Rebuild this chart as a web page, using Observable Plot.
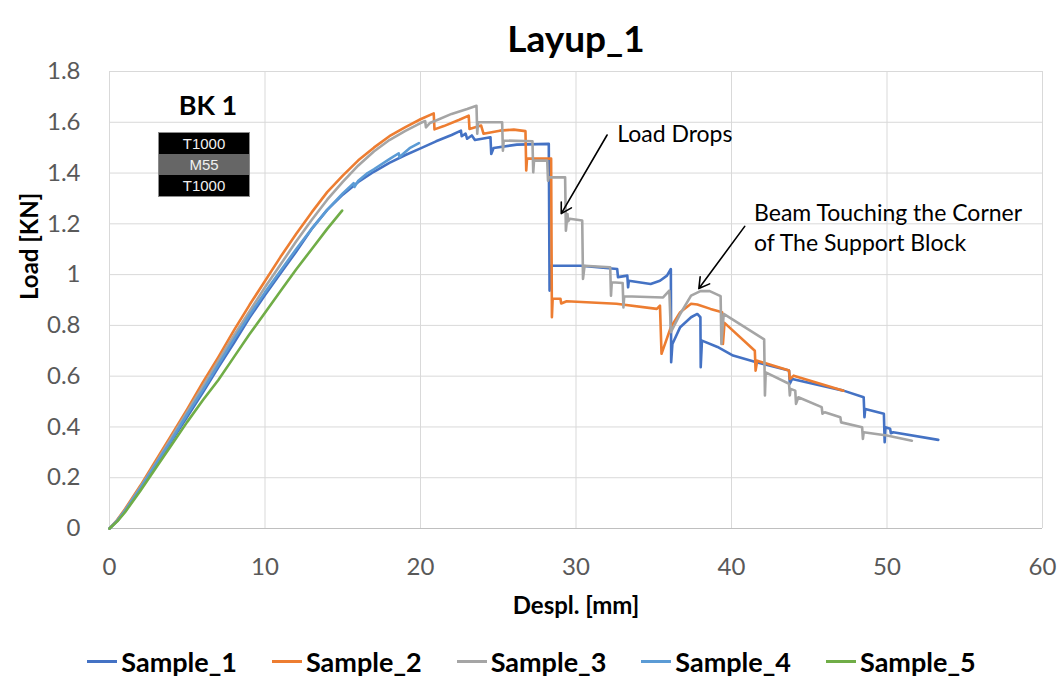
<!DOCTYPE html>
<html>
<head>
<meta charset="utf-8">
<script src="https://cdn.jsdelivr.net/npm/d3@7"></script>
<script src="https://cdn.jsdelivr.net/npm/@observablehq/plot@0.6"></script>
<style>
  html, body { margin: 0; padding: 0; background: #fff; }
  #wrap { position: relative; width: 1063px; height: 685px; font-family: Lato, "Open Sans", sans-serif; }
  #chart { position: absolute; left: 0; top: 0; }
  #bk { position: absolute; left: 158px; top: 88px; width: 92px; }
  #bk .ttl { font-weight: bold; font-size: 27px; color: #000; text-align: center; margin-left: 8px; line-height: 34px; margin-bottom: 10px; }
  #bk .layers { border: 1px solid #8c8c8c; }
  #bk .row { height: 21px; line-height: 21px; text-align: center; color: #f0f0f0; font-family: "Liberation Sans", Arial, sans-serif; font-size: 15px; }
  #legend { position: absolute; top: 645px; left: 0; width: 1063px; display: flex; justify-content: center; gap: 35px; }
  #legend .item { display: flex; align-items: center; gap: 4px; font-weight: bold; font-size: 27px; color: #000; }
  #legend .sw { width: 30px; height: 2.5px; }
</style>
</head>
<body>
<div id="wrap">
  <div id="chart"></div>
  <div id="bk"></div>
  <div id="legend"></div>
</div>
<script>
// ---- data ----
const seriesNames = ["Sample_1", "Sample_2", "Sample_3", "Sample_4", "Sample_5"];
const seriesColors = ["#4472C4", "#ED7D31", "#A5A5A5", "#5B9BD5", "#70AD47"];

const sample1 = [[0,0],[0.5,0.03],[1,0.068],[2,0.155],[3,0.25],[4,0.345],[5,0.44],[6,0.535],[7,0.635],[8,0.73],[9,0.83],[10,0.92],[11,1.005],[12,1.09],[13,1.18],[14,1.255],[15,1.315],[16,1.365],[17,1.405],[18,1.44],[19,1.47],[20,1.497],[21,1.525],[22,1.55],[22.6,1.567],[22.65,1.545],[22.9,1.555],[23.0,1.535],[23.3,1.548],[23.5,1.53],[24.5,1.541],[24.55,1.475],[24.7,1.499],[26.2,1.512],[28.25,1.515],[28.3,0.937],[28.4,1.035],[30.3,1.035],[32.65,1.022],[32.7,0.99],[33.3,0.996],[33.35,0.95],[33.4,0.976],[34.8,0.963],[35.4,0.976],[35.85,0.996],[36.1,1.022],[36.12,0.655],[36.2,0.727],[36.7,0.793],[37.4,0.832],[37.8,0.845],[38.0,0.832],[38.02,0.635],[38.1,0.74],[39.1,0.715],[40.1,0.681],[41.6,0.655],[43.7,0.622],[43.75,0.57],[43.9,0.589],[47.2,0.543],[48.5,0.517],[48.55,0.438],[48.6,0.471],[49.8,0.452],[49.85,0.34],[49.9,0.399],[50.2,0.393],[50.25,0.375],[50.4,0.379],[53.3,0.349]];

const sample2 = [[0,0],[0.5,0.034],[1,0.077],[2,0.17],[3,0.27],[4,0.37],[5,0.47],[6,0.575],[7,0.675],[8,0.78],[9,0.88],[10,0.975],[11,1.07],[12,1.16],[13,1.245],[14,1.325],[15,1.39],[16,1.45],[17,1.5],[18,1.545],[19,1.58],[20,1.612],[20.85,1.635],[20.9,1.572],[21.5,1.585],[22.5,1.61],[23.1,1.626],[23.15,1.574],[23.9,1.587],[24.05,1.555],[25.1,1.567],[26,1.571],[26.75,1.565],[26.8,1.41],[26.85,1.457],[28.4,1.457],[28.45,0.832],[28.5,0.905],[29.0,0.905],[29.05,0.886],[29.4,0.895],[32.6,0.885],[35.2,0.865],[35.4,0.878],[35.5,0.688],[36.1,0.793],[36.7,0.852],[37.4,0.885],[37.8,0.882],[38.65,0.865],[39.4,0.852],[39.45,0.727],[39.55,0.81],[41.5,0.70],[41.55,0.622],[41.65,0.661],[43.7,0.622],[43.75,0.589],[44.0,0.602],[47.2,0.543]];

const sample3 = [[0,0],[0.5,0.032],[1,0.072],[2,0.165],[3,0.26],[4,0.36],[5,0.46],[6,0.56],[7,0.66],[8,0.76],[9,0.855],[10,0.95],[11,1.04],[12,1.13],[13,1.215],[14,1.295],[15,1.365],[16,1.43],[17,1.485],[18,1.53],[19,1.565],[20,1.597],[20.3,1.605],[20.35,1.58],[20.6,1.597],[21,1.607],[22,1.633],[23,1.652],[23.6,1.665],[23.65,1.555],[23.7,1.6],[25.25,1.6],[25.3,1.488],[25.35,1.528],[27.2,1.525],[27.25,1.403],[27.3,1.449],[28.15,1.449],[28.2,1.37],[28.25,1.383],[29.3,1.383],[29.35,1.173],[29.45,1.239],[29.5,1.21],[29.6,1.22],[30.4,1.213],[30.45,0.983],[30.55,1.035],[32.2,1.029],[32.25,0.917],[32.3,0.97],[33.0,0.967],[33.05,0.871],[33.1,0.915],[35.6,0.91],[36.0,0.937],[36.1,0.773],[36.7,0.845],[37.4,0.917],[38.0,0.935],[38.6,0.935],[39.3,0.915],[39.35,0.727],[39.5,0.845],[42.1,0.745],[42.15,0.524],[42.2,0.615],[43.7,0.57],[43.75,0.524],[43.8,0.55],[44.1,0.543],[44.15,0.491],[44.3,0.517],[45.8,0.478],[45.85,0.452],[46.0,0.458],[47.0,0.438],[47.05,0.418],[48.4,0.399],[48.45,0.353],[48.5,0.379],[50.0,0.366],[51.6,0.346]];

const sample4 = [[0,0],[0.5,0.031],[1,0.07],[2,0.16],[3,0.255],[4,0.35],[5,0.45],[6,0.545],[7,0.645],[8,0.745],[9,0.84],[10,0.93],[11,1.015],[12,1.1],[13,1.18],[14,1.255],[15,1.32],[15.7,1.36],[15.75,1.345],[16,1.37],[16.6,1.4],[17,1.415],[18,1.455],[18.6,1.478],[18.65,1.463],[19.3,1.498],[19.9,1.518]];

const sample5 = [[0,0],[0.5,0.028],[1,0.064],[2,0.15],[3,0.24],[4,0.33],[5,0.42],[6,0.505],[7,0.585],[8,0.675],[9,0.765],[10,0.85],[11,0.935],[12,1.02],[13,1.1],[14,1.18],[14.96,1.252]];

const xTicks = [0, 10, 20, 30, 40, 50, 60];
const yTicks = [0, 0.2, 0.4, 0.6, 0.8, 1, 1.2, 1.4, 1.6, 1.8];

const notes = [
  {text: "Load Drops", x: 32.65, y: 1.56},
  {text: "Beam Touching the Corner\nof The Support Block", x: 41.45, y: 1.19}
];
const arrows = [
  {x1: 32.0, y1: 1.55, x2: 29.05, y2: 1.24},
  {x1: 40.85, y1: 1.19, x2: 37.9, y2: 0.945}
];

const layers = [
  {name: "T1000", color: "#000000"},
  {name: "M55", color: "#666666"},
  {name: "T1000", color: "#000000"}
];

// ---- build table ----
const allSeries = [sample1, sample2, sample3, sample4, sample5];
const rows = [];
allSeries.forEach((s, i) => s.forEach(([x, y]) => rows.push({series: seriesNames[i], x, y})));

const chart = Plot.plot({
  width: 1063,
  height: 685,
  marginLeft: 109,
  marginRight: 21,
  marginTop: 71,
  marginBottom: 157,
  style: {fontFamily: "Lato, 'Open Sans', sans-serif", fontSize: "24px", color: "#595959", background: "transparent"},
  x: {domain: [0, 60]},
  y: {domain: [0, 1.8]},
  color: {domain: seriesNames, range: seriesColors},
  marks: [
    Plot.gridX(xTicks, {stroke: "#d9d9d9", strokeOpacity: 1, strokeWidth: 1}),
    Plot.gridY(yTicks, {stroke: "#d9d9d9", strokeOpacity: 1, strokeWidth: 1}),
    Plot.ruleY([0], {stroke: "#bfbfbf", strokeWidth: 1.2}),
    Plot.axisX(xTicks, {tickSize: 0, tickPadding: 29, label: null, fill: "#595959", fontSize: 24}),
    Plot.axisY(yTicks, {tickSize: 0, tickPadding: 29, label: null, fill: "#595959", fontSize: 24, tickFormat: d => String(d)}),
    Plot.line(rows, {x: "x", y: "y", z: "series", stroke: "series", strokeWidth: 2.6, curve: "linear"}),
    Plot.arrow(arrows, {x1: "x1", y1: "y1", x2: "x2", y2: "y2", stroke: "#000", strokeWidth: 1.6, headLength: 11}),
    Plot.text(notes, {x: "x", y: "y", text: "text", textAnchor: "start", fill: "#000", fontSize: 23, lineHeight: 1.3}),
    Plot.text(["Layup_1"], {frameAnchor: "top", dy: -46, fill: "#000", fontWeight: "bold", fontSize: 37}),
    Plot.text(["Load [KN]"], {frameAnchor: "left", dx: -79, rotate: -90, fill: "#000", fontWeight: "bold", fontSize: 24}),
    Plot.text(["Despl. [mm]"], {frameAnchor: "bottom", dy: 85, fill: "#000", fontWeight: "bold", fontSize: 24})
  ]
});
document.getElementById("chart").appendChild(chart);

// BK 1 inset
const bk = document.getElementById("bk");
const t = document.createElement("div"); t.className = "ttl"; t.textContent = "BK 1"; bk.appendChild(t);
const box = document.createElement("div"); box.className = "layers";
layers.forEach(l => { const r = document.createElement("div"); r.className = "row"; r.style.background = l.color; r.textContent = l.name; box.appendChild(r); });
bk.appendChild(box);

// legend
const lg = document.getElementById("legend");
seriesNames.forEach((n, i) => {
  const it = document.createElement("div"); it.className = "item";
  const sw = document.createElement("div"); sw.className = "sw"; sw.style.background = seriesColors[i];
  const tx = document.createElement("span"); tx.textContent = n;
  it.appendChild(sw); it.appendChild(tx); lg.appendChild(it);
});
</script>
</body>
</html>
